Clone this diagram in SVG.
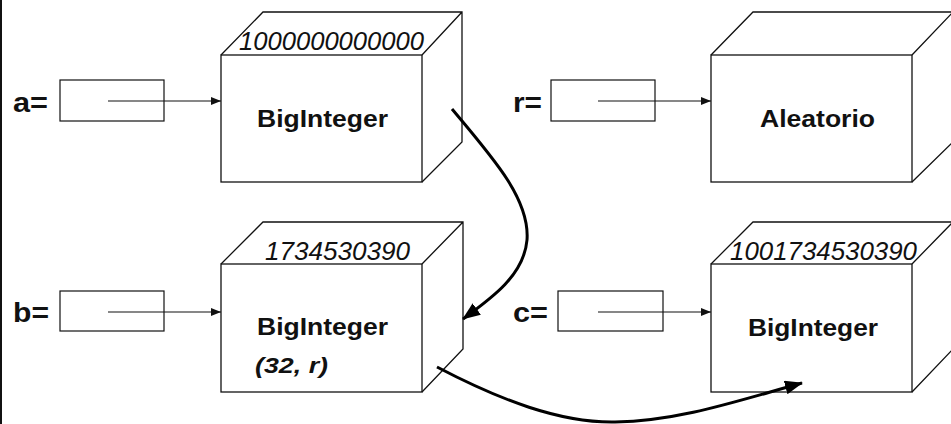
<svg xmlns="http://www.w3.org/2000/svg" width="951" height="424" viewBox="0 0 951 424">
<style>
.box{fill:none;stroke:#111;stroke-width:1.3}
.ref{fill:none;stroke:#111;stroke-width:1.2}
.lbl{font-family:"Liberation Sans",Arial,sans-serif;font-weight:bold;font-size:28px;fill:#111}
.cls{font-family:"Liberation Sans",Arial,sans-serif;font-weight:bold;font-size:24px;fill:#111}
.num{font-family:"Liberation Sans",Arial,sans-serif;font-style:italic;font-size:25px;fill:#111}
.arg{font-family:"Liberation Sans",Arial,sans-serif;font-style:italic;font-weight:bold;font-size:22px;fill:#111}
.ptr{fill:none;stroke:#111;stroke-width:1.2}
.curve{fill:none;stroke:#000;stroke-width:3}
</style>
<defs>
<marker id="ah" viewBox="0 0 10 8" refX="10" refY="4" markerWidth="10" markerHeight="8" markerUnits="userSpaceOnUse" orient="auto">
<path d="M0,0 L10,4 L0,8 Z" fill="#111"/>
</marker>
<marker id="ahb" viewBox="0 0 18 14" refX="17" refY="7" markerWidth="18" markerHeight="14" markerUnits="userSpaceOnUse" orient="auto">
<path d="M0,0 L18,7 L0,14 Z" fill="#000"/>
</marker>
</defs>
<rect x="0" y="0" width="951" height="424" fill="#fff"/>
<rect x="0" y="0" width="2" height="424" fill="#111"/>

<g id="objA">
<rect class="box" x="221" y="55" width="201" height="127"/>
<path class="box" d="M221,55 L263,12 L462,12 L462,142 L422,182 M422,55 L462,12"/>
<text class="num" x="239" y="50" textLength="185" lengthAdjust="spacingAndGlyphs">1000000000000</text>
<text class="cls" x="257" y="127" textLength="131" lengthAdjust="spacingAndGlyphs">BigInteger</text>
</g>

<g id="objR">
<rect class="box" x="711" y="55" width="201" height="127"/>
<path class="box" d="M711,55 L753,12 L953,12 L953,142 L912,182 M912,55 L953,12"/>
<text class="cls" x="760" y="127" textLength="115" lengthAdjust="spacingAndGlyphs">Aleatorio</text>
</g>

<g id="objB">
<rect class="box" x="221" y="264" width="201" height="128"/>
<path class="box" d="M221,264 L263,222 L463,222 L463,349 L422,392 M422,264 L463,222"/>
<text class="num" x="265" y="260" textLength="145" lengthAdjust="spacingAndGlyphs">1734530390</text>
<text class="cls" x="257" y="335" textLength="131" lengthAdjust="spacingAndGlyphs">BigInteger</text>
<text class="arg" x="255" y="373" textLength="73" lengthAdjust="spacingAndGlyphs">(32, r)</text>
</g>

<g id="objC">
<rect class="box" x="711" y="264" width="201" height="128"/>
<path class="box" d="M711,264 L753,222 L953,222 L953,349 L912,392 M912,264 L953,222"/>
<text class="num" x="730" y="260" textLength="187" lengthAdjust="spacingAndGlyphs">1001734530390</text>
<text class="cls" x="748" y="336" textLength="130" lengthAdjust="spacingAndGlyphs">BigInteger</text>
</g>

<g id="varA">
<text class="lbl" x="13" y="112" textLength="35" lengthAdjust="spacingAndGlyphs">a=</text>
<rect class="ref" x="60" y="80" width="104" height="41"/>
</g>
<g id="varR">
<text class="lbl" x="513" y="112" textLength="29" lengthAdjust="spacingAndGlyphs">r=</text>
<rect class="ref" x="551" y="80" width="104" height="41"/>
</g>
<g id="varB">
<text class="lbl" x="13" y="322" textLength="36" lengthAdjust="spacingAndGlyphs">b=</text>
<rect class="ref" x="60" y="291" width="104" height="40"/>
</g>
<g id="varC">
<text class="lbl" x="513" y="322" textLength="35" lengthAdjust="spacingAndGlyphs">c=</text>
<rect class="ref" x="558" y="291" width="105" height="40"/>
</g>

<g id="connectors">
<line class="ptr" x1="108" y1="101" x2="221" y2="101" marker-end="url(#ah)"/>
<line class="ptr" x1="598" y1="101" x2="711" y2="101" marker-end="url(#ah)"/>
<line class="ptr" x1="108" y1="312" x2="221" y2="312" marker-end="url(#ah)"/>
<line class="ptr" x1="598" y1="312" x2="711" y2="312" marker-end="url(#ah)"/>
<path class="curve" d="M452,109 C495,160 530,200 527,240 C524,275 492,298 463,319" marker-end="url(#ahb)"/>
<path class="curve" d="M437,367 C500,400 560,423 615,422 C680,421 740,400 802,383" marker-end="url(#ahb)"/>
</g>
</svg>
